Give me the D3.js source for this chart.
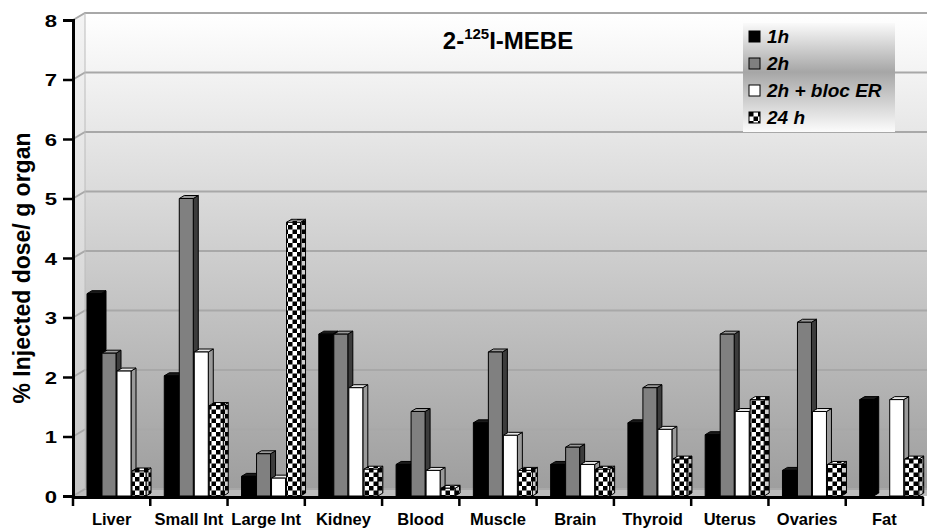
<!DOCTYPE html>
<html>
<head>
<meta charset="utf-8">
<script src="https://cdn.jsdelivr.net/npm/d3@7"></script>
<style>
  html, body { margin: 0; padding: 0; background: #fff; }
  svg { display: block; font-family: "Liberation Sans", Arial, Helvetica, sans-serif; }
</style>
</head>
<body>
<svg id="chart" width="927" height="530"></svg>
<script>
// Organ biodistribution of 2-[125I]-MEBE, % injected dose per g of organ
const organs = ["Liver", "Small Int", "Large Int", "Kidney", "Blood", "Muscle",
                "Brain", "Thyroid", "Uterus", "Ovaries", "Fat"];
const seriesNames = ["1h", "2h", "2h + bloc ER", "24 h"];
const values1h      = [3.40, 2.02, 0.33, 2.72, 0.53, 1.23, 0.53, 1.23, 1.03, 0.43, 1.62];
const values2h      = [2.40, 5.00, 0.71, 2.72, 1.42, 2.42, 0.82, 1.82, 2.72, 2.92, 0.00];
const values2hBloc  = [2.10, 2.42, 0.30, 1.82, 0.43, 1.02, 0.53, 1.12, 1.42, 1.42, 1.62];
const values24h     = [0.42, 1.52, 4.60, 0.45, 0.13, 0.43, 0.45, 0.62, 1.62, 0.53, 0.62];
const yTicks = [0, 1, 2, 3, 4, 5, 6, 7, 8];

const seriesValues = [values1h, values2h, values2hBloc, values24h];

const svg = d3.select("#chart");
const defs = svg.append("defs");

// ---- layout ----
const plotLeft = 73, plotRight = 923, plotBottom = 496, plotTop = 20;
const wallDx = 12, wallDy = -7;      // depth of the back wall
const barDx = 5, barDy = -3;         // depth of each column
const wallRight = 927;

const x = d3.scaleBand().domain(organs).range([plotLeft, plotRight]).padding(0);
const xs = d3.scaleBand().domain(seriesNames).range([14, 74]).padding(0);
const y = d3.scaleLinear().domain([0, 8]).range([plotBottom, plotTop]);

// ---- gradients & patterns ----
const wallGrad = defs.append("linearGradient").attr("id", "wallGrad")
  .attr("x1", 0).attr("y1", 0).attr("x2", 0).attr("y2", 1);
wallGrad.append("stop").attr("offset", "0%").attr("stop-color", "#ffffff");
wallGrad.append("stop").attr("offset", "100%").attr("stop-color", "#9e9e9e");

const sideGrad = defs.append("linearGradient").attr("id", "sideGrad")
  .attr("x1", 0).attr("y1", 0).attr("x2", 0).attr("y2", 1);
sideGrad.append("stop").attr("offset", "0%").attr("stop-color", "#f4f4f4");
sideGrad.append("stop").attr("offset", "100%").attr("stop-color", "#c4c4c4");

const legGrad = defs.append("linearGradient").attr("id", "legGrad")
  .attr("x1", 0).attr("y1", 0).attr("x2", 0).attr("y2", 1);
legGrad.append("stop").attr("offset", "0%").attr("stop-color", "#fafafa");
legGrad.append("stop").attr("offset", "45%").attr("stop-color", "#a6a6a6");
legGrad.append("stop").attr("offset", "100%").attr("stop-color", "#fcfcfc");

function checker(id, light) {
  const p = defs.append("pattern").attr("id", id)
    .attr("patternUnits", "userSpaceOnUse").attr("width", 9).attr("height", 9);
  p.append("rect").attr("width", 9).attr("height", 9).attr("fill", light);
  p.append("rect").attr("width", 4.5).attr("height", 4.5).attr("fill", "#000");
  p.append("rect").attr("x", 4.5).attr("y", 4.5).attr("width", 4.5).attr("height", 4.5).attr("fill", "#000");
}
checker("checkFront", "#ffffff");
checker("checkSide", "#cfcfcf");

const styles = [
  { front: "#000000", side: "#000000", top: "#1a1a1a" },
  { front: "#808080", side: "#3c3c3c", top: "#9a9a9a" },
  { front: "#ffffff", side: "#9a9a9a", top: "#e8e8e8" },
  { front: "url(#checkFront)", side: "url(#checkSide)", top: "url(#checkFront)" }
];

// ---- walls ----
const y0 = y(0), y8 = y(8);
// back wall
svg.append("rect")
  .attr("x", plotLeft + wallDx).attr("y", y8 + wallDy)
  .attr("width", wallRight - plotLeft - wallDx).attr("height", y0 - y8)
  .attr("fill", "url(#wallGrad)");
// side wall
svg.append("path")
  .attr("d", `M${plotLeft},${y8} L${plotLeft + wallDx},${y8 + wallDy} L${plotLeft + wallDx},${y0 + wallDy} L${plotLeft},${y0} Z`)
  .attr("fill", "url(#sideGrad)");
// floor
svg.append("path")
  .attr("d", `M${plotLeft},${y0} L${plotLeft + wallDx},${y0 + wallDy} L${wallRight},${y0 + wallDy} L${wallRight},${y0} Z`)
  .attr("fill", "#bdbdbd");

// gridlines on the back and side walls
const grid = svg.append("g").attr("stroke", "#a8a8a8").attr("stroke-width", 2).attr("fill", "none");
yTicks.forEach(t => {
  grid.append("path")
    .attr("d", `M${plotLeft},${y(t)} L${plotLeft + wallDx},${y(t) + wallDy} L${wallRight},${y(t) + wallDy}`);
});
svg.append("line")
  .attr("x1", plotLeft + wallDx).attr("x2", plotLeft + wallDx)
  .attr("y1", y8 + wallDy).attr("y2", y0 + wallDy)
  .attr("stroke", "#bcbcbc").attr("stroke-width", 1);

// ---- legend ----
const leg = svg.append("g").attr("transform", "translate(743,23)");
leg.append("rect").attr("width", 152).attr("height", 109).attr("fill", "url(#legGrad)");
seriesNames.forEach((name, i) => {
  const g = leg.append("g").attr("transform", `translate(6,${8 + i * 27})`);
  g.append("rect").attr("width", 11).attr("height", 11)
    .attr("fill", i === 3 ? "url(#checkFront)" : styles[i].front)
    .attr("stroke", "#000").attr("stroke-width", 1);
  g.append("text").attr("x", 18).attr("y", 12)
    .attr("font-size", 19).attr("font-weight", "bold").attr("font-style", "italic")
    .attr("fill", "#000").text(name);
});

// ---- columns ----
const bars = svg.append("g").attr("stroke", "#000").attr("stroke-width", 1).attr("stroke-linejoin", "round");
organs.forEach((organ, ci) => {
  seriesNames.forEach((s, si) => {
    const v = seriesValues[si][ci];
    if (v <= 0) return;
    const bx = x(organ) + xs(s);
    const w = xs.bandwidth() - 1;
    const yt = y(v), yb = y(0);
    const st = styles[si];
    const g = bars.append("g");
    g.append("path")
      .attr("d", `M${bx + w},${yt} L${bx + w + barDx},${yt + barDy} L${bx + w + barDx},${yb + barDy} L${bx + w},${yb} Z`)
      .attr("fill", st.side);
    g.append("path")
      .attr("d", `M${bx},${yt} L${bx + barDx},${yt + barDy} L${bx + w + barDx},${yt + barDy} L${bx + w},${yt} Z`)
      .attr("fill", st.top);
    g.append("rect")
      .attr("x", bx).attr("y", yt).attr("width", w).attr("height", yb - yt)
      .attr("fill", st.front);
  });
});

// ---- axes ----
const yAxis = d3.axisLeft(y).tickValues(yTicks).tickSize(10).tickPadding(0).tickFormat(d3.format("d"));
const gy = svg.append("g").attr("transform", `translate(${plotLeft},0)`).call(yAxis);
gy.select(".domain").attr("stroke", "#000").attr("stroke-width", 3);
gy.selectAll(".tick line").attr("stroke", "#000").attr("stroke-width", 2.5);
// tick numerals are set wide
gy.selectAll(".tick text").attr("font-size", 17).attr("font-weight", "bold")
  .attr("font-family", "Liberation Sans, Arial, sans-serif").attr("fill", "#000")
  .attr("x", -16 / 1.3).attr("dy", "0.38em")
  .attr("transform", "scale(1.3,1)");

const xAxis = d3.axisBottom(x).tickSize(0).tickPadding(16);
const gx = svg.append("g").attr("transform", `translate(0,${plotBottom + 1})`).call(xAxis);
gx.select(".domain").attr("stroke", "#000").attr("stroke-width", 3);
gx.selectAll(".tick text").attr("font-size", 16.5).attr("font-weight", "bold")
  .attr("font-family", "Liberation Sans, Arial, sans-serif").attr("fill", "#000");
// category separators
gx.selectAll(".sep").data(organs.concat(["__end"])).enter().append("line")
  .attr("class", "sep")
  .attr("x1", (d, i) => i < organs.length ? x(d) : plotRight)
  .attr("x2", (d, i) => i < organs.length ? x(d) : plotRight)
  .attr("y1", 0).attr("y2", 9)
  .attr("stroke", "#000").attr("stroke-width", 2.5);

// ---- titles ----
const title = svg.append("text")
  .attr("x", 508).attr("y", 49).attr("text-anchor", "middle")
  .attr("font-size", 24).attr("font-weight", "bold").attr("fill", "#000");
title.append("tspan").text("2-");
title.append("tspan").attr("font-size", 15).attr("dy", -10).text("125");
title.append("tspan").attr("dy", 10).text("I-MEBE");

svg.append("text")
  .attr("transform", `translate(30,268) rotate(-90)`)
  .attr("text-anchor", "middle")
  .attr("font-size", 23).attr("font-weight", "bold").attr("fill", "#000")
  .text("% Injected dose/ g organ");
</script>
</body>
</html>
